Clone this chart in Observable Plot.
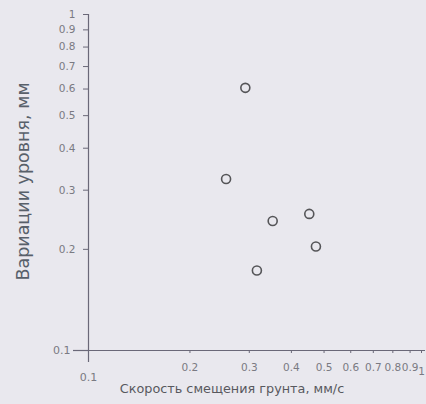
<!DOCTYPE html>
<html>
<head>
<meta charset="utf-8">
<script src="https://cdn.jsdelivr.net/npm/d3@7"></script>
<script src="https://cdn.jsdelivr.net/npm/@observablehq/plot@0.6"></script>
<style>
  html, body { margin: 0; padding: 0; background: #e9e8ee; }
  #chart svg { display: block; }
</style>
</head>
<body>
<div id="chart"></div>
<script>
// Data
const speed = [0.292, 0.256, 0.352, 0.452, 0.473, 0.316];   // Скорость смещения грунта, мм/с
const level = [0.605, 0.324, 0.243, 0.255, 0.204, 0.173];   // Вариации уровня, мм
const yTicks = [0.2, 0.3, 0.4, 0.5, 0.6, 0.7, 0.8, 0.9, 1];
const xTicks = [0.2, 0.3, 0.4, 0.5, 0.6, 0.7, 0.8, 0.9];
const xTitle = "Скорость смещения грунта, мм/с";
const yTitle = "Вариации уровня, мм";

const points = speed.map((s, i) => ({speed: s, level: level[i]}));
const fmt = d => d === 1 ? "1" : String(d);

const axisColor = "#6a6878";
const labelColor = "#7a7a82";

const chart = Plot.plot({
  width: 426,
  height: 404,
  marginLeft: 88,
  marginRight: 1,
  marginTop: 14,
  marginBottom: 54,
  style: {background: "#e9e8ee", fontFamily: "DejaVu Sans, Verdana, sans-serif"},
  x: {type: "log", domain: [0.1, 1]},
  y: {type: "log", domain: [0.1, 1]},
  marks: [
    Plot.ruleY([0.1], {stroke: axisColor, strokeWidth: 1.2}),
    Plot.ruleX([0.1], {stroke: axisColor, strokeWidth: 1.2}),
    Plot.axisY({ticks: yTicks, tickFormat: fmt, tickSize: 5, tickPadding: 8, fontSize: 10.5, fill: labelColor, stroke: axisColor, label: null}),
    Plot.axisY({ticks: [0.1], tickFormat: fmt, tickSize: 15, tickPadding: 3, fontSize: 11, fill: labelColor, stroke: axisColor, strokeWidth: 1.2, label: null}),
    Plot.axisX({ticks: xTicks, tickFormat: fmt, tickSize: 3, tickPadding: 10, fontSize: 10.5, fill: labelColor, stroke: axisColor, label: null}),
    Plot.axisX({ticks: [1], tickFormat: fmt, tickSize: 3, tickPadding: 14, fontSize: 10.5, dx: -4, fill: labelColor, stroke: axisColor, label: null}),
    Plot.axisX({ticks: [0.1], tickFormat: fmt, tickSize: 12, tickPadding: 11, fontSize: 11, fill: labelColor, stroke: axisColor, strokeWidth: 1.2, label: null}),
    Plot.dot(points, {x: "speed", y: "level", r: 4.5, stroke: "#555558", strokeWidth: 1.6, fill: "none"}),
    Plot.text([xTitle], {frameAnchor: "bottom", textAnchor: "middle", dx: -25, dy: 38, fontSize: 12.8, fill: "#58585e", lineAnchor: "middle"}),
    Plot.text([yTitle], {frameAnchor: "left", textAnchor: "middle", dx: -65, dy: -1, rotate: -90, fontSize: 17.5, fill: "#58606a", lineAnchor: "middle"})
  ]
});
document.getElementById("chart").appendChild(chart);
</script>
</body>
</html>
